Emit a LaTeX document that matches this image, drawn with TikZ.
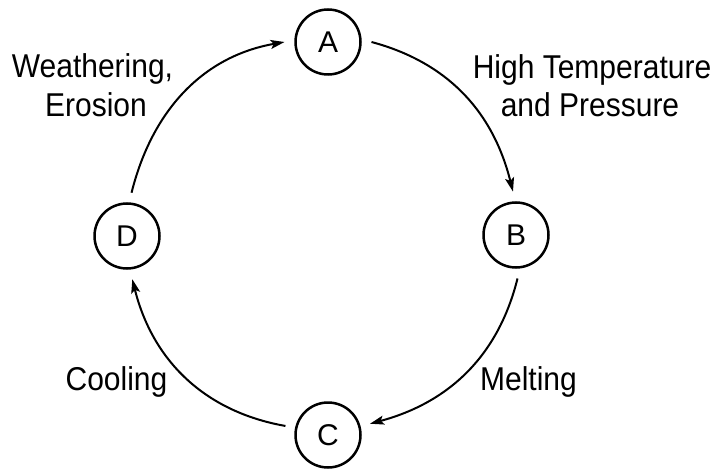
\documentclass[tikz,border=0pt]{standalone}
\usepackage{fontspec}
\setmainfont{Liberation Sans}
\usetikzlibrary{arrows.meta}
\begin{document}
\begin{tikzpicture}[x=1pt,y=1pt,
  stage/.style={circle,draw,line width=2.5pt,minimum size=65pt,inner sep=0pt,outer sep=11pt,font=\fontsize{30}{36}\selectfont},
  lbl/.style={anchor=base,inner sep=0pt,font=\fontsize{30}{36}\selectfont,yscale=1.1,transform shape},
  flow/.style={line width=2pt,-{Stealth[length=14pt,width=9pt,inset=3pt]}}]
\useasboundingbox (0,0) rectangle (719,472);
\node[stage] (A) at (328,430) {A};
\node[stage] (B) at (516,237) {B};
\node[stage] (C) at (328,37) {C};
\node[stage] (D) at (127,236) {D};
\draw[flow] (A.0) to[out=-15,in=104] (B.94);
\draw[flow] (B.-88) to[out=-104,in=15] (C.15);
\draw[flow] (C.168) to[out=170,in=-76] (D.-83);
\draw[flow] (D.84) to[out=76,in=190] (A.180);
\node[lbl] (w1) at (92.5,394) {Weathering,};
\node[lbl] (w2) at (96,355) {Erosion};
\node[lbl] (h1) at (592,393) {High Temperature};
\node[lbl] (h2) at (590,355) {and Pressure};
\node[lbl] (c1) at (116.5,82) {Cooling};
\node[lbl] (m1) at (528.5,82) {Melting};
\end{tikzpicture}
\end{document}
